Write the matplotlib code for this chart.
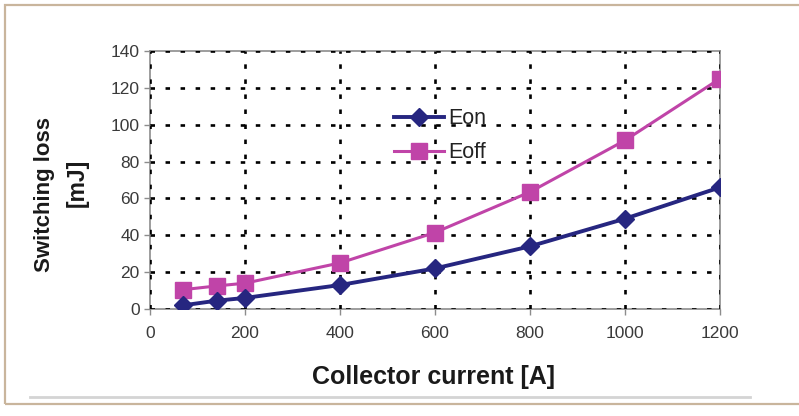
import matplotlib.pyplot as plt
from matplotlib.patches import Rectangle
from matplotlib.lines import Line2D

# Data
current = [70, 140, 200, 400, 600, 800, 1000, 1200]
e_on = [2, 4.5, 6, 13, 22, 34, 49, 66]
e_off = [10.5, 12.5, 14, 25, 41.5, 63.5, 91.5, 125]
x_ticks = [0, 200, 400, 600, 800, 1000, 1200]
y_ticks = [0, 20, 40, 60, 80, 100, 120, 140]

plt.rcParams['font.family'] = ['Liberation Sans', 'DejaVu Sans']

fig = plt.figure(figsize=(7.99, 4.16), dpi=100)
W, H = 799, 416

# outer frame and faint shadow line
fig.patches.append(Rectangle((5 / W, 1 - 404 / H), 900 / W, 399 / H,
                             transform=fig.transFigure, fill=False,
                             edgecolor='#c9b59c', linewidth=1.6))
fig.add_artist(Line2D([30 / W, 750 / W], [1 - 397 / H, 1 - 397 / H],
                      transform=fig.transFigure, color='#d4d4d4', linewidth=2))

ax = fig.add_axes([150 / W, 1 - 309 / H, 570 / W, 258 / H])

ax.plot(current, e_on, color='#262680', linewidth=2.8, marker='D',
        markersize=9.5, label='Eon', zorder=4)
ax.plot(current, e_off, color='#c044a8', linewidth=2.2, marker='s',
        markersize=11.5, label='Eoff', zorder=3)

ax.set_xlim(0, 1200)
ax.set_ylim(0, 140)
ax.set_xticks(x_ticks)
ax.set_yticks(y_ticks)
ax.grid(True, color='black', linewidth=1.9, linestyle=(0, (1.7, 4)))
ax.set_axisbelow(True)
for s in ax.spines.values():
    s.set_color('#8c8c8c')
    s.set_linewidth(1.2)
    s.set_zorder(0.5)
ax.tick_params(colors='#8c8c8c', labelcolor='#3a3a3a', labelsize=12.5,
               length=4, width=1)
ax.tick_params(axis='x', pad=8)

ax.legend(loc='upper left', bbox_to_anchor=(0.41, 0.82), frameon=False,
          fontsize=15.5, handlelength=2.3, handletextpad=0.2,
          labelspacing=0.6, borderpad=0, labelcolor='#222222')

fig.text(434 / W, 1 - 377 / H, 'Collector current [A]', ha='center',
         va='center', fontsize=18, fontweight='bold', color='#1a1a1a')
fig.text(45 / W, 1 - 194 / H, 'Switching loss', ha='center', va='center',
         rotation=90, fontsize=16, fontweight='bold', color='#1a1a1a')
fig.text(77 / W, 1 - 183 / H, '[mJ]', ha='center', va='center',
         rotation=90, fontsize=16.5, fontweight='bold', color='#1a1a1a')

fig.savefig('out.png', dpi=100)
